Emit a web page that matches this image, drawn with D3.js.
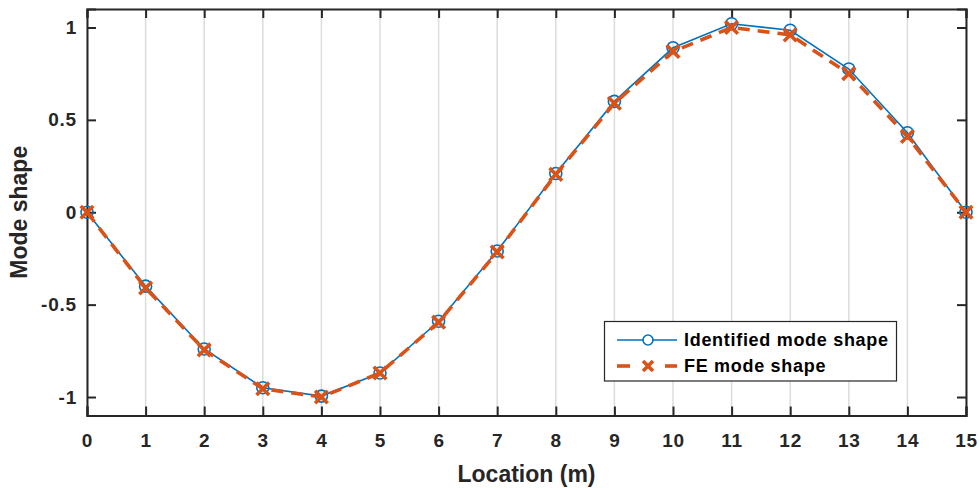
<!DOCTYPE html>
<html><head><meta charset="utf-8">
<script src="https://cdn.jsdelivr.net/npm/d3@7"></script>
<style>body{margin:0;background:#fff}svg{display:block;font-family:"Liberation Sans",Arial,sans-serif;font-weight:bold}</style>
</head><body><svg id="c" width="980" height="488"></svg>
<script>
const locations = [0,1,2,3,4,5,6,7,8,9,10,11,12,13,14,15];
const identified = [0,-0.40,-0.74,-0.95,-0.995,-0.87,-0.59,-0.21,0.21,0.60,0.89,1.02,0.985,0.775,0.43,0];
const feMode = [0,-0.41,-0.745,-0.955,-1.0,-0.87,-0.595,-0.215,0.205,0.59,0.87,1.0,0.96,0.75,0.41,0];
const xTicks = [0,1,2,3,4,5,6,7,8,9,10,11,12,13,14,15];
const yTicks = [-1,-0.5,0,0.5,1];
const yTickLabels = ["-1","-0.5","0","0.5","1"];
const seriesNames = ["Identified mode shape","FE mode shape"];

const svg = d3.select("#c");
const L=87, R=966, T=9, B=415.5;
const x = d3.scaleLinear().domain([0,15]).range([L,R]);
const y = d3.scaleLinear().domain([-1.1,1.1]).range([B,T]);
const axisCol="#262626";

// grid
svg.append("g").selectAll("line").data(xTicks).join("line")
  .attr("x1",d=>x(d)).attr("x2",d=>x(d)).attr("y1",T).attr("y2",B)
  .attr("stroke","#dcdcdc").attr("stroke-width",1.5);

// axes
const ax = svg.append("g").attr("transform",`translate(0,${B})`)
  .call(d3.axisBottom(x).tickValues(xTicks).tickSize(-9).tickPadding(18).tickFormat(d3.format("d")));
const ay = svg.append("g").attr("transform",`translate(${L},0)`)
  .call(d3.axisLeft(y).tickValues(yTicks).tickSize(-9).tickPadding(10).tickFormat((d,i)=>yTickLabels[i]));
const axT = svg.append("g").attr("transform",`translate(0,${T})`)
  .call(d3.axisTop(x).tickValues(xTicks).tickSize(-9).tickFormat(""));
const ayR = svg.append("g").attr("transform",`translate(${R},0)`)
  .call(d3.axisRight(y).tickValues(yTicks).tickSize(-9).tickFormat(""));
[ax,ay,axT,ayR].forEach(g=>{
  g.select(".domain").attr("stroke",axisCol).attr("stroke-width",2);
  g.selectAll(".tick line").attr("stroke",axisCol).attr("stroke-width",2);
  g.selectAll(".tick text").attr("fill",axisCol).style("font-size","19px").style("font-weight","bold")
   .style("font-family","'Liberation Sans',Arial,sans-serif").style("letter-spacing","0.8px");
});
ax.selectAll(".tick text").attr("dy","0.71em");

// axis titles
svg.append("text").attr("x",(L+R)/2).attr("y",482).attr("text-anchor","middle")
  .attr("fill",axisCol).style("font-size","23px").text("Location (m)");
svg.append("text").attr("transform",`translate(27,${(T+B)/2}) rotate(-90)`).attr("text-anchor","middle")
  .attr("fill",axisCol).style("font-size","23px").text("Mode shape");

const blue="#0072BD", orange="#D95319";
const line = d3.line().x((d,i)=>x(locations[i])).y(d=>y(d));

// identified
svg.append("path").datum(identified).attr("d",line).attr("fill","none").attr("stroke",blue).attr("stroke-width",1.6);
svg.append("g").selectAll("circle").data(identified).join("circle")
  .attr("cx",(d,i)=>x(locations[i])).attr("cy",d=>y(d)).attr("r",6)
  .attr("fill","none").attr("stroke",blue).attr("stroke-width",1.6);

// FE
svg.append("path").datum(feMode).attr("d",line).attr("fill","none").attr("stroke",orange)
  .attr("stroke-width",3.6).attr("stroke-dasharray","12,8");
const cross = (g,cx,cy,s)=>{
  g.append("path").attr("d",`M${cx-s},${cy-s}L${cx+s},${cy+s}M${cx-s},${cy+s}L${cx+s},${cy-s}`)
   .attr("stroke",orange).attr("stroke-width",3.6).attr("fill","none");
};
const fg = svg.append("g");
feMode.forEach((d,i)=>cross(fg,x(locations[i]),y(d),6.3));

// legend
const lg = svg.append("g");
lg.append("rect").attr("x",604.5).attr("y",321.5).attr("width",292).attr("height",59.5)
  .attr("fill","#fff").attr("stroke",axisCol).attr("stroke-width",1.2);
const ly1=340, ly2=366;
lg.append("line").attr("x1",617).attr("x2",677).attr("y1",ly1).attr("y2",ly1).attr("stroke",blue).attr("stroke-width",1.6);
lg.append("circle").attr("cx",648).attr("cy",ly1).attr("r",5).attr("fill","#fff").attr("stroke",blue).attr("stroke-width",1.6);
[[617,630],[665,677]].forEach(s=>lg.append("line").attr("x1",s[0]).attr("x2",s[1]).attr("y1",ly2).attr("y2",ly2)
  .attr("stroke",orange).attr("stroke-width",3.6));
cross(lg,648,ly2,5);
lg.selectAll("text.lt").data(seriesNames).join("text").attr("class","lt")
  .attr("x",684).attr("y",(d,i)=>i?ly2:ly1).attr("dy","0.36em")
  .attr("fill","#000").style("font-size","18px").style("letter-spacing","0.7px").text(d=>d);
</script></body></html>
